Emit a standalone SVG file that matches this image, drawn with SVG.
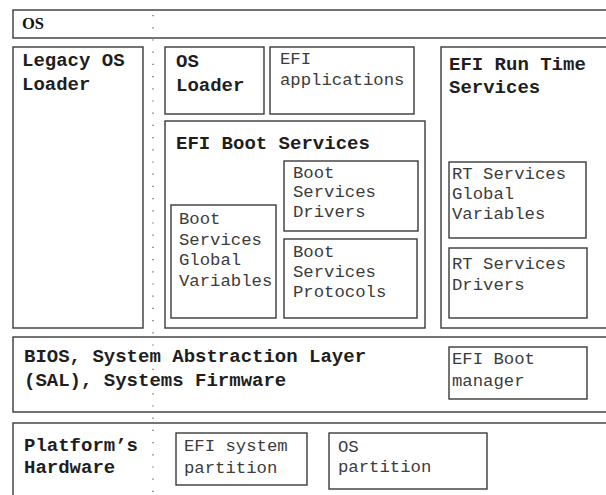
<svg xmlns="http://www.w3.org/2000/svg" width="606" height="495" viewBox="0 0 606 495">
  <style>
    .box { fill: #ffffff; stroke: #3a3a3a; stroke-width: 1.4; }
    .bold { font-family: "Liberation Mono", "Courier New", monospace; font-weight: bold; font-size: 19px; fill: #1e1e1e; }
    .mono { font-family: "Liberation Mono", "Courier New", monospace; font-size: 17.3px; fill: #3c3c3c; }
    .serif { font-family: "Liberation Serif", "Times New Roman", serif; font-weight: bold; font-size: 16.5px; fill: #111111; }
    .guide { stroke: #777777; stroke-width: 1.5; stroke-dasharray: 1.2 11; fill: none; }
  </style>
  <rect width="606" height="495" fill="#ffffff"/>

  <!-- OS layer -->
  <g id="os">
    <rect class="box" x="13" y="10" width="600" height="28"/>
    <text class="serif" x="22" y="29">OS</text>
  </g>

  <!-- Legacy loader column -->
  <g id="legacy-os-loader">
    <rect class="box" x="13" y="47" width="130" height="281"/>
    <text class="bold" x="22" y="66">Legacy OS</text>
    <text class="bold" x="22" y="90">Loader</text>
  </g>

  <g id="os-loader">
    <rect class="box" x="165" y="47" width="99" height="67"/>
    <text class="bold" x="176" y="67">OS</text>
    <text class="bold" x="176" y="91">Loader</text>
  </g>

  <g id="efi-applications">
    <rect class="box" x="270" y="47" width="144" height="67"/>
    <text class="mono" x="280" y="64">EFI</text>
    <text class="mono" x="280" y="85">applications</text>
  </g>

  <!-- Boot services container and its parts -->
  <g id="efi-boot-services">
    <rect class="box" x="165" y="121" width="260" height="207"/>
    <text class="bold" x="176" y="149">EFI Boot Services</text>
  </g>

  <g id="boot-services-drivers">
    <rect class="box" x="284" y="161" width="134" height="70"/>
    <text class="mono" x="293" y="178">Boot</text>
    <text class="mono" x="293" y="197">Services</text>
    <text class="mono" x="293" y="217">Drivers</text>
  </g>

  <g id="boot-services-protocols">
    <rect class="box" x="284" y="239" width="133" height="79"/>
    <text class="mono" x="293" y="257">Boot</text>
    <text class="mono" x="293" y="277">Services</text>
    <text class="mono" x="293" y="297">Protocols</text>
  </g>

  <g id="boot-services-global-variables">
    <rect class="box" x="171" y="205" width="105" height="113"/>
    <text class="mono" x="179" y="224">Boot</text>
    <text class="mono" x="179" y="245">Services</text>
    <text class="mono" x="179" y="265">Global</text>
    <text class="mono" x="179" y="286">Variables</text>
  </g>

  <!-- Runtime services column -->
  <g id="efi-run-time-services">
    <rect class="box" x="441" y="47" width="172" height="281"/>
    <text class="bold" x="449" y="70">EFI Run Time</text>
    <text class="bold" x="449" y="93">Services</text>
  </g>

  <g id="rt-services-global-variables">
    <rect class="box" x="449" y="162" width="137" height="76"/>
    <text class="mono" x="452" y="179">RT Services</text>
    <text class="mono" x="452" y="199">Global</text>
    <text class="mono" x="452" y="219">Variables</text>
  </g>

  <g id="rt-services-drivers">
    <rect class="box" x="449" y="248" width="138" height="70"/>
    <text class="mono" x="452" y="269">RT Services</text>
    <text class="mono" x="452" y="290">Drivers</text>
  </g>

  <!-- Firmware layer -->
  <g id="firmware">
    <rect class="box" x="13" y="337" width="600" height="75"/>
    <text class="bold" x="24" y="362">BIOS, System Abstraction Layer</text>
    <text class="bold" x="24" y="386">(SAL), Systems Firmware</text>
  </g>

  <g id="efi-boot-manager">
    <rect class="box" x="449" y="347" width="138" height="52"/>
    <text class="mono" x="452" y="364">EFI Boot</text>
    <text class="mono" x="452" y="386">manager</text>
  </g>

  <!-- Hardware layer -->
  <g id="platform-hardware">
    <rect class="box" x="13" y="423" width="600" height="80"/>
    <text class="bold" x="24" y="451">Platform’s</text>
    <text class="bold" x="24" y="473">Hardware</text>
  </g>

  <g id="efi-system-partition">
    <rect class="box" x="176" y="433" width="131" height="52"/>
    <text class="mono" x="184" y="451">EFI system</text>
    <text class="mono" x="184" y="473">partition</text>
  </g>

  <g id="os-partition">
    <rect class="box" x="329" y="433" width="158" height="56"/>
    <text class="mono" x="338" y="452">OS</text>
    <text class="mono" x="338" y="472">partition</text>
  </g>

  <!-- dotted guide column -->
  <g id="connectors">
    <line class="guide" x1="153" y1="15" x2="153" y2="494"/>
  </g>
</svg>
